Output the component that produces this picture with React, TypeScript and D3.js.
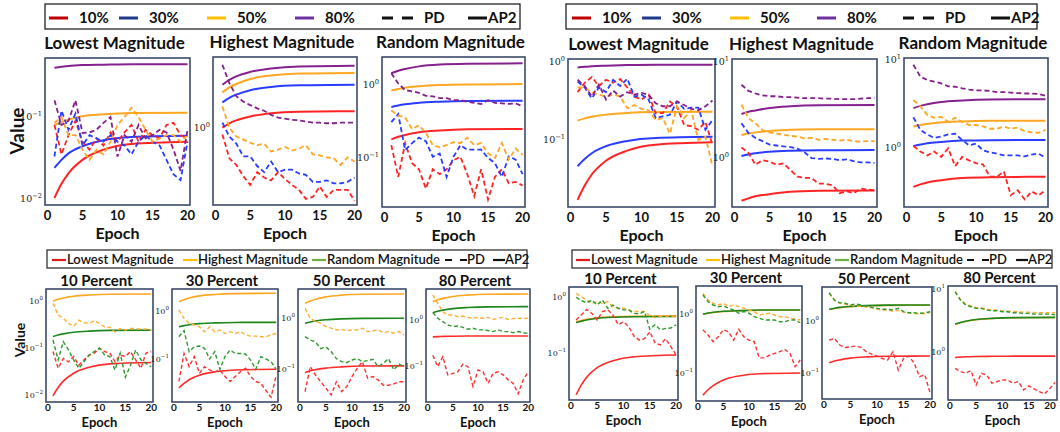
import * as d3 from "d3";

// x positions shared by all panels
const EPOCHS = [1, 2, 3, 4, 5, 6, 7, 8, 9, 10, 11, 12, 13, 14, 15, 16, 17, 18, 19, 20];
const AP2_EPOCHS = [1, 2, 3, 5, 8, 12, 20];
const X_TICKS = [0, 5, 10, 15, 20];

const TOP_LEGEND = ["10%", "30%", "50%", "80%"];
const BOTTOM_LEGEND = ["Lowest Magnitude", "Highest Magnitude", "Random Magnitude"];
const TOP_TITLES = ["Lowest Magnitude", "Highest Magnitude", "Random Magnitude"];
const BOTTOM_TITLES = ["10 Percent", "30 Percent", "50 Percent", "80 Percent"];

// ---- top-left, Lowest Magnitude (10/30/50/80)
const TL1_PD = [
  [0.08, 0.035, 0.06, 0.09, 0.05, 0.04, 0.055, 0.045, 0.065, 0.05, 0.065, 0.08, 0.05, 0.07, 0.06, 0.055, 0.08, 0.085, 0.06, 0.055],
  [0.033, 0.12, 0.07, 0.11, 0.045, 0.06, 0.055, 0.05, 0.06, 0.05, 0.045, 0.035, 0.05, 0.06, 0.05, 0.045, 0.03, 0.02, 0.017, 0.05],
  [0.085, 0.1, 0.06, 0.06, 0.04, 0.03, 0.04, 0.035, 0.05, 0.08, 0.1, 0.13, 0.1, 0.07, 0.05, 0.055, 0.06, 0.06, 0.05, 0.06],
  [0.16, 0.08, 0.09, 0.16, 0.064, 0.065, 0.07, 0.085, 0.1, 0.033, 0.06, 0.05, 0.08, 0.055, 0.06, 0.07, 0.065, 0.04, 0.022, 0.07],
];
const TL1_AP2 = [
  [0.0103, 0.0153, 0.0206, 0.03, 0.04, 0.047, 0.05],
  [0.024, 0.03, 0.036, 0.044, 0.052, 0.057, 0.059],
  [0.08, 0.087, 0.093, 0.102, 0.108, 0.112, 0.113],
  [0.4, 0.41, 0.42, 0.43, 0.435, 0.44, 0.44],
];
// ---- top-left, Highest Magnitude
const TL2_PD = [
  [0.9, 0.62, 0.56, 0.47, 0.41, 0.5, 0.46, 0.44, 0.5, 0.45, 0.41, 0.38, 0.33, 0.34, 0.4, 0.34, 0.38, 0.38, 0.38, 0.32],
  [1.08, 0.87, 0.78, 0.64, 0.64, 0.55, 0.5, 0.59, 0.5, 0.52, 0.52, 0.49, 0.48, 0.43, 0.43, 0.44, 0.42, 0.42, 0.43, 0.46],
  [1.39, 1.0, 0.87, 0.83, 0.79, 0.76, 0.78, 0.69, 0.71, 0.74, 0.7, 0.72, 0.76, 0.66, 0.65, 0.63, 0.62, 0.56, 0.63, 0.59],
  [2.66, 2.0, 1.63, 1.5, 1.42, 1.35, 1.3, 1.22, 1.17, 1.15, 1.13, 1.12, 1.1, 1.08, 1.08, 1.07, 1.07, 1.08, 1.08, 1.08],
];
const TL2_AP2 = [
  [1.0, 1.07, 1.12, 1.19, 1.25, 1.28, 1.29],
  [1.48, 1.59, 1.67, 1.79, 1.88, 1.93, 1.95],
  [1.73, 1.87, 1.97, 2.13, 2.25, 2.32, 2.34],
  [1.95, 2.1, 2.22, 2.38, 2.51, 2.59, 2.62],
];
// ---- top-left, Random Magnitude
const TL3_PD = [
  [0.15, 0.055, 0.16, 0.085, 0.07, 0.038, 0.07, 0.06, 0.07, 0.093, 0.104, 0.06, 0.03, 0.07, 0.027, 0.055, 0.07, 0.045, 0.047, 0.042],
  [0.31, 0.4, 0.128, 0.16, 0.19, 0.17, 0.104, 0.115, 0.055, 0.104, 0.15, 0.13, 0.13, 0.13, 0.1, 0.085, 0.055, 0.105, 0.095, 0.06],
  [0.45, 0.38, 0.36, 0.25, 0.28, 0.22, 0.15, 0.14, 0.15, 0.165, 0.16, 0.19, 0.15, 0.16, 0.116, 0.1, 0.16, 0.095, 0.135, 0.11],
  [1.45, 1.05, 0.85, 0.82, 0.78, 0.71, 0.7, 0.66, 0.66, 0.62, 0.62, 0.59, 0.57, 0.55, 0.62, 0.57, 0.56, 0.55, 0.56, 0.51],
];
const TL3_AP2 = [
  [0.18, 0.195, 0.207, 0.225, 0.238, 0.247, 0.25],
  [0.5, 0.525, 0.545, 0.57, 0.59, 0.605, 0.61],
  [0.84, 0.88, 0.92, 0.96, 1.0, 1.02, 1.03],
  [1.45, 1.57, 1.66, 1.8, 1.91, 1.96, 1.98],
];

// ---- top-right, Lowest Magnitude
const TR1_PD = [
  [0.41, 0.54, 0.64, 0.49, 0.59, 0.54, 0.6, 0.47, 0.36, 0.33, 0.38, 0.22, 0.22, 0.31, 0.27, 0.155, 0.15, 0.135, 0.17, 0.086],
  [0.56, 0.47, 0.34, 0.47, 0.41, 0.59, 0.49, 0.61, 0.36, 0.38, 0.33, 0.19, 0.2, 0.21, 0.31, 0.25, 0.26, 0.26, 0.135, 0.18],
  [0.47, 0.47, 0.41, 0.38, 0.36, 0.38, 0.36, 0.255, 0.28, 0.25, 0.24, 0.18, 0.19, 0.12, 0.27, 0.19, 0.24, 0.1, 0.11, 0.046],
  [0.59, 0.49, 0.36, 0.51, 0.33, 0.43, 0.36, 0.41, 0.38, 0.4, 0.38, 0.295, 0.27, 0.27, 0.31, 0.28, 0.25, 0.24, 0.27, 0.32],
];
const TR1_AP2 = [
  [0.017, 0.026, 0.036, 0.054, 0.073, 0.087, 0.093],
  [0.046, 0.057, 0.0675, 0.083, 0.097, 0.106, 0.11],
  [0.177, 0.189, 0.198, 0.211, 0.222, 0.228, 0.23],
  [0.85, 0.865, 0.88, 0.895, 0.91, 0.92, 0.92],
];
// ---- top-right, Highest Magnitude
const TR2_PD = [
  [1.29, 1.13, 0.85, 0.95, 0.92, 0.85, 0.88, 0.75, 0.64, 0.62, 0.62, 0.54, 0.54, 0.52, 0.43, 0.45, 0.43, 0.48, 0.47, 0.46],
  [2.3, 1.82, 1.62, 1.5, 1.38, 1.35, 1.32, 1.3, 1.25, 1.15, 1.0, 0.98, 0.99, 0.98, 0.95, 0.97, 0.93, 0.9, 0.9, 0.89],
  [3.6, 2.6, 2.3, 1.95, 1.85, 1.8, 1.75, 1.7, 1.68, 1.6, 1.62, 1.55, 1.58, 1.55, 1.52, 1.55, 1.5, 1.48, 1.5, 1.5],
  [5.8, 5.0, 4.7, 4.5, 4.4, 4.4, 4.3, 4.3, 4.25, 4.2, 4.2, 4.2, 4.15, 4.15, 4.1, 4.1, 4.1, 4.15, 4.2, 4.2],
];
const TR2_AP2 = [
  [0.36, 0.38, 0.4, 0.42, 0.445, 0.455, 0.46],
  [1.05, 1.09, 1.12, 1.16, 1.19, 1.205, 1.21],
  [1.74, 1.8, 1.85, 1.91, 1.97, 1.99, 2.0],
  [2.87, 3.03, 3.13, 3.32, 3.46, 3.54, 3.57],
];
// ---- top-right, Random Magnitude
const TR3_PD = [
  [1.05, 0.91, 0.82, 0.91, 0.79, 0.99, 0.62, 0.79, 0.72, 0.67, 0.65, 0.47, 0.47, 0.54, 0.29, 0.33, 0.26, 0.32, 0.29, 0.33],
  [2.23, 1.6, 1.42, 1.3, 1.35, 1.42, 1.45, 1.23, 1.07, 1.12, 0.94, 0.89, 0.86, 0.82, 0.82, 0.82, 0.8, 0.84, 0.86, 0.77],
  [3.5, 2.97, 2.37, 2.2, 2.25, 1.98, 2.2, 1.98, 1.82, 1.82, 1.75, 1.65, 1.65, 1.75, 1.65, 1.7, 1.55, 1.5, 1.48, 1.6],
  [8.8, 6.45, 5.9, 5.65, 5.4, 5.0, 4.95, 4.75, 4.6, 4.5, 4.5, 4.45, 4.3, 4.3, 4.25, 4.2, 4.15, 4.15, 4.1, 3.9],
];
const TR3_AP2 = [
  [0.36, 0.385, 0.405, 0.43, 0.455, 0.465, 0.47],
  [1.05, 1.09, 1.13, 1.17, 1.21, 1.225, 1.23],
  [1.75, 1.82, 1.87, 1.95, 2.0, 2.03, 2.04],
  [2.83, 3.0, 3.13, 3.32, 3.45, 3.54, 3.57],
];

// ---- bottom-left, lowest/highest/random per percent
const BL1_PD = [
  [0.084, 0.037, 0.06, 0.051, 0.066, 0.043, 0.056, 0.071, 0.078, 0.099, 0.084, 0.078, 0.051, 0.071, 0.066, 0.084, 0.056, 0.037, 0.078, 0.084],
  [0.89, 0.5, 0.43, 0.335, 0.29, 0.39, 0.345, 0.335, 0.38, 0.335, 0.28, 0.275, 0.22, 0.26, 0.24, 0.26, 0.26, 0.25, 0.255, 0.24],
  [0.148, 0.056, 0.136, 0.091, 0.056, 0.037, 0.051, 0.071, 0.084, 0.099, 0.071, 0.066, 0.034, 0.078, 0.024, 0.043, 0.091, 0.056, 0.047, 0.04],
];
const BL1_AP2 = [
  [0.0096, 0.0144, 0.0197, 0.029, 0.039, 0.046, 0.049],
  [1.0, 1.09, 1.16, 1.26, 1.34, 1.39, 1.41],
  [0.175, 0.189, 0.2, 0.216, 0.229, 0.237, 0.24],
];
const BL2_PD = [
  [0.034, 0.13, 0.069, 0.112, 0.05, 0.069, 0.059, 0.054, 0.059, 0.043, 0.034, 0.043, 0.054, 0.064, 0.043, 0.034, 0.031, 0.022, 0.016, 0.046],
  [1.05, 0.7, 0.55, 0.51, 0.47, 0.37, 0.47, 0.37, 0.4, 0.34, 0.37, 0.34, 0.37, 0.32, 0.3, 0.3, 0.29, 0.29, 0.32, 0.34],
  [0.29, 0.39, 0.142, 0.18, 0.186, 0.167, 0.1, 0.142, 0.061, 0.112, 0.154, 0.13, 0.13, 0.127, 0.095, 0.061, 0.112, 0.1, 0.088, 0.061],
];
const BL2_AP2 = [
  [0.025, 0.031, 0.037, 0.046, 0.054, 0.059, 0.061],
  [1.56, 1.72, 1.86, 2.06, 2.21, 2.3, 2.34],
  [0.47, 0.495, 0.515, 0.545, 0.565, 0.577, 0.58],
];
const BL3_PD = [
  [0.036, 0.111, 0.076, 0.056, 0.042, 0.031, 0.056, 0.036, 0.045, 0.071, 0.103, 0.139, 0.066, 0.071, 0.061, 0.048, 0.048, 0.051, 0.056, 0.056],
  [1.55, 0.99, 0.85, 0.79, 0.68, 0.63, 0.58, 0.6, 0.56, 0.58, 0.58, 0.63, 0.54, 0.56, 0.58, 0.515, 0.54, 0.5, 0.54, 0.46],
  [0.43, 0.37, 0.34, 0.25, 0.27, 0.22, 0.16, 0.139, 0.133, 0.15, 0.16, 0.139, 0.146, 0.155, 0.111, 0.129, 0.16, 0.096, 0.125, 0.111],
];
const BL3_AP2 = [
  [0.085, 0.092, 0.097, 0.104, 0.11, 0.114, 0.115],
  [1.94, 2.15, 2.33, 2.59, 2.8, 2.91, 2.95],
  [0.79, 0.835, 0.87, 0.92, 0.96, 0.98, 0.99],
];
const BL4_PD = [
  [0.17, 0.097, 0.16, 0.064, 0.069, 0.075, 0.11, 0.097, 0.036, 0.082, 0.075, 0.042, 0.069, 0.075, 0.064, 0.05, 0.042, 0.025, 0.05, 0.075],
  [3.5, 2.3, 1.51, 1.28, 1.28, 1.18, 1.22, 1.14, 1.09, 1.14, 1.09, 1.14, 1.03, 1.09, 1.14, 1.03, 1.07, 1.09, 1.07, 1.09],
  [1.45, 1.09, 0.92, 0.78, 0.72, 0.74, 0.69, 0.63, 0.66, 0.61, 0.61, 0.59, 0.56, 0.61, 0.56, 0.56, 0.53, 0.56, 0.53, 0.51],
];
const BL4_AP2 = [
  [0.43, 0.435, 0.44, 0.445, 0.448, 0.45, 0.45],
  [2.5, 2.75, 2.95, 3.25, 3.48, 3.62, 3.67],
  [1.44, 1.55, 1.64, 1.77, 1.87, 1.93, 1.95],
];

// ---- bottom-right
const BR1_PD = [
  [0.39, 0.48, 0.6, 0.51, 0.39, 0.55, 0.59, 0.48, 0.32, 0.36, 0.295, 0.2, 0.17, 0.18, 0.24, 0.15, 0.14, 0.18, 0.13, 0.092],
  [1.16, 1.01, 0.88, 0.77, 0.83, 0.77, 0.83, 0.67, 0.63, 0.63, 0.59, 0.55, 0.55, 0.55, 0.46, 0.43, 0.45, 0.46, 0.45, 0.45],
  [0.99, 0.86, 0.79, 0.88, 0.72, 0.88, 0.63, 0.72, 0.63, 0.59, 0.59, 0.51, 0.5, 0.55, 0.265, 0.32, 0.26, 0.275, 0.28, 0.32],
];
const BR1_AP2 = [
  [0.018, 0.027, 0.037, 0.055, 0.073, 0.086, 0.092],
  [0.36, 0.38, 0.4, 0.425, 0.445, 0.455, 0.46],
  [0.35, 0.37, 0.39, 0.415, 0.435, 0.445, 0.45],
];
const BR2_PD = [
  [0.54, 0.44, 0.34, 0.41, 0.54, 0.5, 0.36, 0.55, 0.41, 0.36, 0.34, 0.18, 0.18, 0.2, 0.215, 0.23, 0.25, 0.215, 0.128, 0.166],
  [2.24, 1.73, 1.52, 1.42, 1.52, 1.33, 1.42, 1.33, 1.25, 1.17, 1.1, 0.96, 1.0, 1.03, 0.96, 0.9, 0.9, 0.85, 0.82, 0.79],
  [2.1, 1.62, 1.42, 1.33, 1.37, 1.25, 1.17, 1.03, 1.1, 1.03, 0.9, 0.85, 0.79, 0.79, 0.79, 0.74, 0.74, 0.79, 0.79, 0.71],
];
const BR2_AP2 = [
  [0.042, 0.052, 0.061, 0.076, 0.089, 0.097, 0.1],
  [0.99, 1.03, 1.06, 1.1, 1.13, 1.155, 1.16],
  [1.0, 1.04, 1.07, 1.11, 1.14, 1.165, 1.17],
];
const BR3_PD = [
  [0.43, 0.46, 0.345, 0.31, 0.32, 0.33, 0.31, 0.257, 0.23, 0.212, 0.19, 0.178, 0.257, 0.114, 0.19, 0.212, 0.154, 0.085, 0.092, 0.041],
  [3.4, 2.45, 2.2, 2.1, 2.0, 1.95, 1.9, 1.85, 1.8, 1.7, 1.62, 1.6, 1.55, 1.6, 1.48, 1.42, 1.4, 1.35, 1.4, 1.45],
  [3.5, 2.53, 2.25, 2.19, 2.03, 2.12, 2.03, 1.94, 1.83, 1.75, 1.68, 1.68, 1.63, 1.75, 1.51, 1.44, 1.44, 1.41, 1.44, 1.51],
];
const BR3_AP2 = [
  [0.158, 0.17, 0.179, 0.193, 0.204, 0.21, 0.212],
  [1.66, 1.74, 1.81, 1.89, 1.96, 2.0, 2.01],
  [1.68, 1.76, 1.83, 1.91, 1.98, 2.02, 2.03],
];
const BR4_PD = [
  [0.55, 0.49, 0.46, 0.505, 0.3, 0.46, 0.43, 0.32, 0.34, 0.36, 0.36, 0.32, 0.34, 0.25, 0.29, 0.26, 0.235, 0.216, 0.265, 0.33],
  [9.2, 6.9, 5.8, 5.4, 5.1, 5.0, 4.8, 4.7, 4.65, 4.5, 4.5, 4.4, 4.35, 4.3, 4.3, 4.25, 4.2, 4.2, 4.2, 4.2],
  [9.05, 6.7, 5.57, 5.24, 4.94, 4.94, 4.64, 4.53, 4.53, 4.36, 4.36, 4.2, 4.2, 4.11, 4.11, 4.01, 4.01, 4.01, 4.01, 3.9],
];
const BR4_AP2 = [
  [0.82, 0.83, 0.84, 0.85, 0.855, 0.86, 0.86],
  [2.76, 2.93, 3.06, 3.26, 3.41, 3.5, 3.53],
  [2.78, 2.95, 3.08, 3.28, 3.43, 3.52, 3.55],
];

const TOP_COLORS = ["#ff2424", "#2a3cff", "#ffa623", "#86208f"];
const TOP_LEGEND_COLORS = ["#c00000", "#1f3a8a", "#ffc000", "#7030a0"];
const BOTTOM_COLORS = ["#ff2b2b", "#ffa623", "#1d861d"];
const BOTTOM_PD_COLORS = ["#ff3030", "#ffae33", "#2f9a2f"];
const BOTTOM_LEGEND_COLORS = ["#e31a1c", "#ffc000", "#70ad47"];

const FONT = "Lato, 'Open Sans', sans-serif";
const FRAME = "#3b4a6a";

type PanelDef = {
  title: string;
  frame: [number, number, number, number];
  yDomain: [number, number];
  yTicks: number[];
  pd: number[][];
  ap2: number[][];
  colors: string[];
  pdColors: string[];
  big: boolean;
};

const EXP_TEXT: Record<number, string> = { 0.01: "−2", 0.1: "−1", 1: "0", 10: "1" };

function Panel({ p }: { p: PanelDef }) {
  const [fx, fy, fw, fh] = p.frame;
  const x = d3.scaleLinear().domain([-0.35, 20.35]).range([fx, fx + fw]);
  const y = d3.scaleLog().domain(p.yDomain).range([fy + fh, fy]);
  const pdLine = d3
    .line<number>()
    .x((_, i) => x(EPOCHS[i]))
    .y((d) => y(d));
  const apLine = d3
    .line<number>()
    .x((_, i) => x(AP2_EPOCHS[i]))
    .y((d) => y(d))
    .curve(d3.curveMonotoneX);

  const big = p.big;
  const tickSize = big ? 13 : 10;
  const yTickSize = big ? 9.5 : 8;

  return (
    <g>
      <text
        x={fx + fw / 2 - 3}
        y={big ? fy - 9 : fy - 3}
        textAnchor="middle"
        fontFamily={FONT}
        fontWeight="bold"
        fontSize={big ? 17 : 15}
        fill="#111"
      >
        {p.title}
      </text>
      {p.ap2.map((d, i) => (
        <path key={"a" + i} d={apLine(d) || ""} fill="none" stroke={p.colors[i]} strokeWidth={big ? 2 : 1.6} />
      ))}
      {p.pd.map((d, i) => (
        <path
          key={"p" + i}
          d={pdLine(d) || ""}
          fill="none"
          stroke={p.pdColors[i]}
          strokeWidth={big ? 1.8 : 1.4}
          strokeDasharray={big ? "5,3" : "4,2.5"}
        />
      ))}
      <rect x={fx} y={fy} width={fw} height={fh} fill="none" stroke={FRAME} strokeWidth={1.6} />
      {X_TICKS.map((t) => (
        <text
          key={t}
          x={Math.min(x(t), 1050)}
          y={fy + fh + (big ? 15 : 9)}
          textAnchor="middle"
          fontFamily={FONT}
          fontWeight="bold"
          fontSize={tickSize}
          fill="#111"
        >
          {t}
        </text>
      ))}
      {p.yTicks.map((t) => (
        <text
          key={t}
          x={fx - 3}
          y={y(t) + 3}
          textAnchor="end"
          fontFamily="'DejaVu Serif', serif"
          fontSize={yTickSize}
          fill="#222"
        >
          10
          <tspan dy={-4} fontSize={yTickSize * 0.7}>
            {EXP_TEXT[t]}
          </tspan>
        </text>
      ))}
      <text
        x={fx + fw / 2}
        y={fy + fh + (big ? 34 : 25)}
        textAnchor="middle"
        fontFamily={FONT}
        fontWeight="bold"
        fontSize={big ? 16 : 13}
        fill="#111"
      >
        Epoch
      </text>
    </g>
  );
}

function TopLegend({ x0, y0, w, xs }: { x0: number; y0: number; w: number; xs: number[] }) {
  // xs: line start for 10/30/50/80, PD, AP2
  return (
    <g fontFamily={FONT} fontWeight="bold" fontSize={15} fill="#111">
      <rect x={x0} y={y0} width={w} height={25} fill="#fff" stroke="#222" strokeWidth={1.3} />
      {TOP_LEGEND.map((lbl, i) => (
        <g key={lbl}>
          <line x1={xs[i]} x2={xs[i] + 19} y1={y0 + 14} y2={y0 + 14} stroke={TOP_LEGEND_COLORS[i]} strokeWidth={3} />
          <text x={xs[i] + 30} y={y0 + 19}>
            {lbl}
          </text>
        </g>
      ))}
      <line x1={xs[4]} x2={xs[4] + 31} y1={y0 + 14} y2={y0 + 14} stroke="#111" strokeWidth={3} strokeDasharray="11,9" />
      <text x={xs[4] + 42} y={y0 + 19}>
        PD
      </text>
      <line x1={xs[5]} x2={xs[5] + 19} y1={y0 + 14} y2={y0 + 14} stroke="#111" strokeWidth={3} />
      <text x={xs[5] + 20} y={y0 + 19}>
        AP2
      </text>
    </g>
  );
}

function BottomLegend({ x0, y0, w, xs }: { x0: number; y0: number; w: number; xs: number[] }) {
  return (
    <g fontFamily={FONT} fontWeight={600} fontSize={13} fill="#111">
      <rect x={x0} y={y0} width={w} height={18} fill="#fff" stroke="#222" strokeWidth={1.2} />
      {BOTTOM_LEGEND.map((lbl, i) => (
        <g key={lbl}>
          <line x1={xs[i]} x2={xs[i] + 14} y1={y0 + 10} y2={y0 + 10} stroke={BOTTOM_LEGEND_COLORS[i]} strokeWidth={2.2} />
          <text x={xs[i] + 15} y={y0 + 14}>
            {lbl}
          </text>
        </g>
      ))}
      <line x1={xs[3]} x2={xs[3] + 22} y1={y0 + 10} y2={y0 + 10} stroke="#111" strokeWidth={2.2} strokeDasharray="7,8" />
      <text x={xs[3] + 22} y={y0 + 14}>
        PD
      </text>
      <line x1={xs[4]} x2={xs[4] + 12} y1={y0 + 10} y2={y0 + 10} stroke="#111" strokeWidth={2.2} />
      <text x={xs[4] + 12} y={y0 + 14}>
        AP2
      </text>
    </g>
  );
}

const topPanel = (
  i: number,
  frame: [number, number, number, number],
  yDomain: [number, number],
  yTicks: number[],
  pd: number[][],
  ap2: number[][]
): PanelDef => ({
  title: TOP_TITLES[i],
  frame,
  yDomain,
  yTicks,
  pd,
  ap2,
  colors: TOP_COLORS,
  pdColors: TOP_COLORS,
  big: true,
});

const bottomPanel = (
  i: number,
  frame: [number, number, number, number],
  yDomain: [number, number],
  yTicks: number[],
  pd: number[][],
  ap2: number[][]
): PanelDef => ({
  title: BOTTOM_TITLES[i],
  frame,
  yDomain,
  yTicks,
  pd,
  ap2,
  colors: BOTTOM_COLORS,
  pdColors: BOTTOM_PD_COLORS,
  big: false,
});

const PANELS: PanelDef[] = [
  topPanel(0, [45, 58, 145, 147], [0.00845, 0.525], [0.01, 0.1], TL1_PD, TL1_AP2),
  topPanel(1, [213, 57, 144, 148], [0.3, 3.0], [1], TL2_PD, TL2_AP2),
  topPanel(2, [382, 57, 143, 150], [0.0213, 2.42], [0.1, 1], TL3_PD, TL3_AP2),
  topPanel(0, [568, 59, 147, 148], [0.0138, 1.09], [0.1, 1], TR1_PD, TR1_AP2),
  topPanel(1, [732, 59, 145, 148], [0.309, 10.75], [1, 10], TR2_PD, TR2_AP2),
  topPanel(2, [904, 58, 144, 149], [0.213, 10.5], [1, 10], TR3_PD, TR3_AP2),
  bottomPanel(0, [46, 289, 107, 113], [0.0071, 1.8], [0.01, 0.1, 1], BL1_PD, BL1_AP2),
  bottomPanel(1, [172, 289, 106, 113], [0.0127, 2.87], [0.1, 1], BL2_PD, BL2_AP2),
  bottomPanel(2, [298, 289, 108, 113], [0.0225, 3.7], [0.1, 1], BL3_PD, BL3_AP2),
  bottomPanel(3, [426, 289, 104, 113], [0.0165, 4.72], [0.1, 1], BL4_PD, BL4_AP2),
  bottomPanel(0, [569, 287, 109, 113], [0.0145, 1.51], [0.1, 1], BR1_PD, BR1_AP2),
  bottomPanel(1, [696, 286, 106, 115], [0.0335, 2.98], [0.1, 1], BR2_PD, BR2_AP2),
  bottomPanel(2, [822, 287, 110, 112], [0.0316, 4.51], [0.1, 1], BR3_PD, BR3_AP2),
  bottomPanel(3, [948, 286, 109, 114], [0.173, 11.2], [1, 10], BR4_PD, BR4_AP2),
];

export default function App() {
  return (
    <svg
      width={1060}
      height={432}
      viewBox="0 0 1060 432"
      style={{ position: "absolute", left: 0, top: 0, background: "#fff" }}
    >
      <TopLegend x0={45} y0={4} w={475} xs={[49, 119, 207, 295, 382, 468]} />
      <TopLegend x0={566} y0={4} w={471} xs={[572, 642, 730, 817, 903, 991]} />
      <BottomLegend x0={47} y0={250} w={480} xs={[52, 183, 312, 445, 493]} />
      <BottomLegend x0={572} y0={250} w={480} xs={[576, 706, 835, 967, 1016]} />
      {PANELS.map((p, i) => (
        <Panel key={i} p={p} />
      ))}
      <text
        transform="translate(24,131) rotate(-90)"
        textAnchor="middle"
        fontFamily={FONT}
        fontWeight="bold"
        fontSize={19}
        fill="#111"
      >
        Value
      </text>
      <text
        transform="translate(25,340) rotate(-90)"
        textAnchor="middle"
        fontFamily={FONT}
        fontWeight="bold"
        fontSize={14}
        fill="#111"
      >
        Value
      </text>
    </svg>
  );
}
